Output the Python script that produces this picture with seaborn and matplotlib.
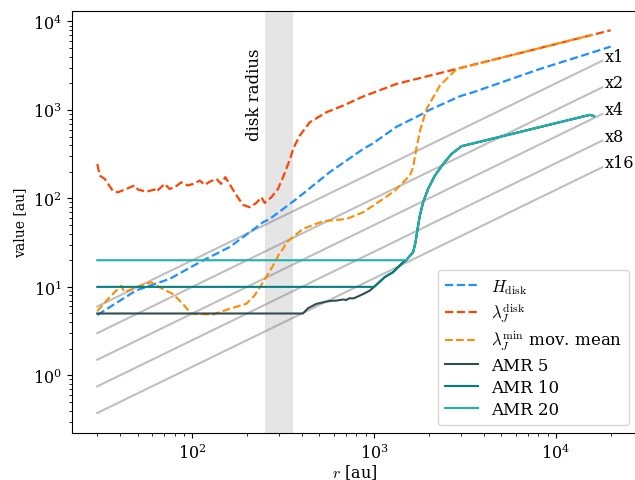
import matplotlib
matplotlib.use("Agg")
import matplotlib.pyplot as plt
import numpy as np
import pandas as pd
import seaborn as sns

plt.rcParams["font.family"] = ["DejaVu Serif"]
plt.rcParams["mathtext.fontset"] = "cm"

# ---- radial profiles, r in au ----
r_hdisk = [30, 49, 75, 114, 160, 207, 245, 267, 344, 374, 570, 871, 988, 1328,
           1860, 2027, 2965, 3510, 8170, 20000]
h_disk = [4.8, 9.1, 12.3, 19.8, 28.1, 41.5, 53.8, 58.6, 86.7, 98.6, 198, 362, 420, 645,
          910, 1005, 1429, 1585, 2905, 5190]

r_jeans = [30, 31, 33, 36.5, 38.9, 43.3, 48.1, 50.2, 55.8, 62, 63.4, 70.4, 75, 80, 87,
           94.6, 101, 110, 117, 125, 136, 144, 152, 160, 175, 190, 207, 225, 240, 250,
           272, 296, 316, 343, 360, 390, 443, 547, 675, 871, 1328, 2027, 3090, 5820, 20000]
jeans_disk = [245, 181, 166, 122, 117, 128, 140, 126, 119, 126, 119, 146, 128, 134, 152,
              140, 146, 159, 142, 155, 166, 146, 174, 146, 108, 84.5, 79.4, 88.9, 103, 88.9,
              103, 128, 175, 270, 370, 513, 726, 942, 1119, 1420, 1968, 2443, 3035, 4200, 7950]

r_jmin = [30, 35.1, 40.6, 42.4, 49.1, 59.5, 66, 78.1, 88.7, 98.6, 130, 160, 198, 220,
          245, 278, 302, 316, 330, 406, 524, 705, 871, 1122, 1300, 1415, 1574, 1640,
          1712, 1800, 1943, 2300, 2844, 3090, 5820, 15900]
jeans_min_mean = [5.3, 7.65, 10.3, 8.7, 9.9, 11.3, 9.9, 8.3, 6.43, 4.95, 4.87, 5.64, 6.43,
                  7.98, 11.3, 17.4, 24, 27, 32, 45.2, 55.2, 58.6, 69.8, 98.6, 122, 146, 181,
                  225, 380, 609, 1026, 1885, 2905, 3035, 4200, 7080]

# resolved length once the refinement floor is exceeded (shared by all runs)
r_tail = [406, 433, 482, 547, 580, 621, 675, 700, 735, 770, 800, 870, 947, 1000, 1145,
          1273, 1445, 1500, 1640, 1690, 1734, 1785, 1861, 1982, 2159, 2398, 2666, 3028,
          15400, 16200]
v_tail = [5.0, 5.74, 6.43, 6.82, 6.95, 7.0, 7.2, 7.1, 7.45, 7.4, 7.66, 8.3, 9.08, 10.0,
          12.9, 14.7, 19.0, 20.0, 24.7, 32, 45.2, 64, 90.6, 128, 181, 245, 318, 389,
          880, 850]
amr_names = ["AMR 5", "AMR 10", "AMR 20"]
amr_floor = [5, 10, 20]
amr_join = [406, 1000, 1500]
amr_colors = ["darkslategray", "teal", "lightseagreen"]

# reference lines r/5 divided by 1, 2, 4, 8, 16
ref_r = [30, 18000]
ref_labels = ["x1", "x2", "x4", "x8", "x16"]
ref_lo = [6, 3, 1.5, 0.75, 0.375]
ref_hi = [3600, 1800, 900, 450, 225]

disk_span = (250, 360)

fig = plt.figure(figsize=(6.35, 4.81), dpi=100)
ax = fig.add_axes([0.1129, 0.0971, 0.891, 0.878])
ax.set_xscale("log")
ax.set_yscale("log")

ax.axvspan(*disk_span, color="grey", alpha=0.2, lw=0)
ax.text(219, 1520, "disk radius", rotation=90, ha="center", va="center", fontsize=12)

for lab, lo, hi in zip(ref_labels, ref_lo, ref_hi):
    d = pd.DataFrame({"r": ref_r, "v": [lo, hi]})
    sns.lineplot(data=d, x="r", y="v", ax=ax, color="grey", alpha=0.5, lw=1.5,
                 estimator=None, label="_nolegend_")
    ax.text(ref_r[-1] * 1.03, hi * 1.0, lab, ha="left", va="baseline", fontsize=11.5)

for r, v, c, lab, lw in [
    (r_hdisk, h_disk, "dodgerblue", r"$H_\mathrm{disk}$", 1.6),
    (r_jeans, jeans_disk, "orangered", r"$\lambda_J^\mathrm{disk}$", 1.6),
    (r_jmin, jeans_min_mean, "darkorange", r"$\lambda_J^\mathrm{min}$ mov. mean", 1.5),
]:
    d = pd.DataFrame({"r": r, "v": v})
    sns.lineplot(data=d, x="r", y="v", ax=ax, color=c, lw=lw, linestyle="--",
                 estimator=None, label=lab)

for name, floor, join, c in zip(amr_names, amr_floor, amr_join, amr_colors):
    rr = [30] + [t for t in r_tail if t >= join]
    vv = [floor] + [v for t, v in zip(r_tail, v_tail) if t >= join]
    d = pd.DataFrame({"r": rr, "v": vv})
    sns.lineplot(data=d, x="r", y="v", ax=ax, color=c, lw=1.5,
                 estimator=None, label=name)

ax.set_xlim(21.7, 28100)
ax.set_ylim(0.2212, 13140)
ax.set_xlabel(r"$r$ [au]", fontsize=11.5)
ax.xaxis.set_label_coords(0.5, -0.068)
ax.set_ylabel("value [au]", fontsize=10)
ax.tick_params(axis="both", which="major", labelsize=11.5)
ax.legend(loc="lower right", fontsize=12, labelspacing=0.3)

fig.savefig("out.png", dpi=100)
